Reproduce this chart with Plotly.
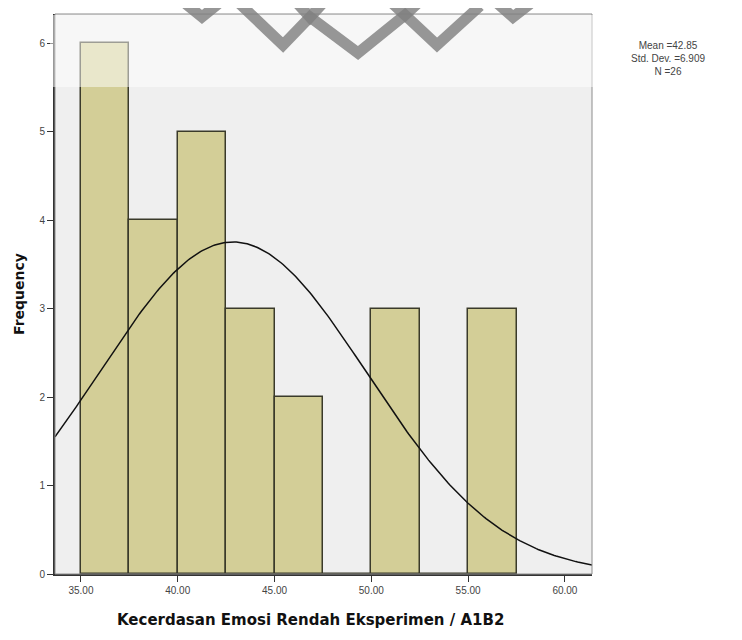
import numpy as np
import plotly.graph_objects as go

# ---- data ----
bin_starts = [35.0, 37.5, 40.0, 42.5, 45.0, 47.5, 50.0, 52.5, 55.0]
counts = [6, 4, 5, 3, 2, 0, 3, 0, 3]
bin_width = 2.5
mean_val = 42.85
sd_val = 6.909
n_val = 26
x_tick_vals = [35, 40, 45, 50, 55, 60]
x_tick_text = ["35.00", "40.00", "45.00", "50.00", "55.00", "60.00"]
y_tick_vals = [0, 1, 2, 3, 4, 5, 6]
x_title = "Kecerdasan Emosi Rendah Eksperimen / A1B2"
y_title = "Frequency"
stats_text = "Mean =%.2f<br>Std. Dev. =%.3f<br>N =%d" % (mean_val, sd_val, n_val)

OFF = 8  # page body margin
W, H = 742 - OFF, 640 - OFF
L, R, T, B = 55, 592, 14, 574  # page pixel coords of plot area
x_range = [33.66, 61.4]
y_range = [0, 6.33]

centers = [s + bin_width / 2 for s in bin_starts]

xc = np.linspace(x_range[0], x_range[1], 300)
yc = n_val * bin_width / (sd_val * np.sqrt(2 * np.pi)) * np.exp(-0.5 * ((xc - mean_val) / sd_val) ** 2)

fig = go.Figure()
fig.add_trace(go.Bar(
    x=centers, y=counts, width=bin_width,
    marker=dict(color="#d3ce97", line=dict(color="#3a3a2a", width=1.5)),
    hoverinfo="x+y"))
fig.add_trace(go.Scatter(x=xc, y=yc, mode="lines",
                         line=dict(color="#111111", width=1.5), hoverinfo="skip"))

def px(xp):
    return (xp - L) / (R - L)

def py(yp):
    return (B - yp) / (B - T)

shapes = []
shapes.append(dict(type="rect", xref="paper", yref="paper", x0=0, x1=1, y0=0, y1=1,
                   line=dict(color="#8c8c8c", width=1), layer="above"))
shapes.append(dict(type="rect", xref="paper", yref="paper", x0=px(50), x1=px(R + 1),
                   y0=py(87), y1=py(T + 1), fillcolor="rgba(255,255,255,0.5)",
                   line=dict(width=0), layer="above"))
paths = [
    [(186, 4), (202, 17), (218, 4)],
    [(240, 4), (283, 45), (310, 17), (358, 53), (405, 15), (437, 45), (480, 6)],
    [(298, 4), (310, 17), (322, 4)],
    [(393, 4), (405, 15), (417, 4)],
    [(498, 4), (513, 17), (530, 4)],
]
for pts in paths:
    d = "M " + " L ".join("%.4f,%.4f" % (px(a), py(b)) for a, b in pts)
    shapes.append(dict(type="path", xref="paper", yref="paper", path=d,
                       line=dict(color="rgba(128,128,128,0.82)", width=11), layer="above"))

fig.update_layout(
    width=W, height=H,
    margin=dict(l=L - OFF, r=W - (R - OFF), t=T - OFF, b=H - (B - OFF)),
    paper_bgcolor="white", plot_bgcolor="#efefef",
    showlegend=False, bargap=0,
    font=dict(family="Liberation Sans, Arial, sans-serif", color="#222"),
    shapes=shapes,
    annotations=[
        dict(text=stats_text, xref="paper", yref="paper",
             x=px(668), y=py(38), xanchor="center", yanchor="top",
             showarrow=False, align="center",
             font=dict(size=10, color="#444")),
        dict(text="<b>" + x_title + "</b>", xref="paper", yref="paper",
             x=px(310), y=py(620), xanchor="center", yanchor="middle",
             showarrow=False,
             font=dict(family="DejaVu Sans, sans-serif", size=15, color="#111")),
    ],
)
fig.update_xaxes(range=x_range, tickvals=x_tick_vals, ticktext=x_tick_text,
                 showgrid=False, zeroline=False, showline=True, linecolor="#333",
                 linewidth=2, ticks="outside", ticklen=6, tickcolor="#333",
                 tickfont=dict(size=10, color="#444"))
fig.update_yaxes(range=y_range, tickvals=y_tick_vals,
                 showgrid=False, zeroline=False, showline=True, linecolor="#333",
                 linewidth=2, ticks="outside", ticklen=6, tickcolor="#333",
                 tickfont=dict(size=10, color="#444"),
                 title=dict(text="<b>" + y_title + "</b>",
                            font=dict(family="DejaVu Sans, sans-serif", size=14, color="#111"),
                            standoff=12))

fig.write_html("out.html")
